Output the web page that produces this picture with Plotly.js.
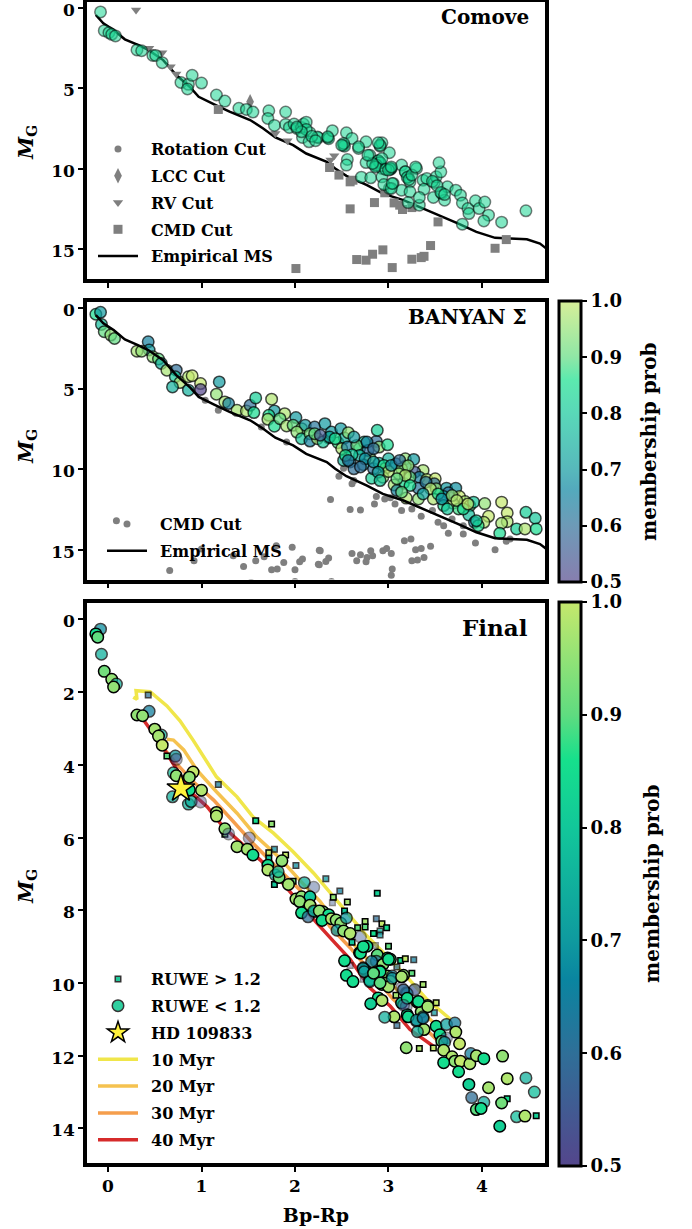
<!DOCTYPE html>
<html><head><meta charset="utf-8">
<script src="https://cdn.plot.ly/plotly-3.0.1.min.js"></script>
<style>html,body{margin:0;padding:0;background:#fff}#g{width:692px;height:1229px}</style>
</head><body><div id="g"></div>
<script>
// Empirical main sequence [Bp-Rp, M_G]
const msX=[-0.13,-0.05,0.06,0.18,0.32,0.43,0.59,0.73,0.88,0.97,1.13,1.30,1.52,1.66,1.79,1.98,2.12,2.27,2.34,2.43,2.55,2.77,2.94,3.16,3.37,3.59,3.76,3.94,4.14,4.30,4.48,4.62,4.69];
const msY=[0.44,0.95,1.37,1.95,2.30,2.61,3.24,4.17,4.94,5.52,5.98,6.45,6.97,7.49,8.05,8.53,9.05,9.42,9.56,9.98,10.44,11.02,11.54,11.95,12.47,12.99,13.44,13.92,14.29,14.34,14.38,14.65,14.96];
// Comove panel
const comoveX=[-0.08,-0.04,0.01,0.04,0.08,0.31,0.36,0.48,0.51,0.58,0.78,0.86,0.85,0.90,1.00,1.16,1.25,1.40,1.48,1.55,1.72,1.71,1.78,1.90,1.90,1.94,1.99,2.02,2.07,2.09,2.12,2.16,2.08,2.15,2.25,2.24,2.35,2.36,2.40,2.52,2.53,2.55,2.61,2.68,2.76,2.56,2.55,2.71,2.81,2.80,2.76,2.91,2.93,3.01,2.89,2.91,2.86,2.93,2.93,3.02,3.03,3.05,3.01,2.95,3.14,3.18,3.21,3.23,3.30,3.14,3.23,3.37,3.41,3.38,3.49,3.51,3.56,3.54,3.48,3.57,3.60,3.63,3.72,3.77,3.79,3.85,3.86,3.93,3.97,4.03,4.07,4.02,4.21,4.47,3.79,3.33,3.33,3.21,3.03,2.89,2.91,2.87,2.93,2.86,2.83,2.78,3.02,2.97,3.00,3.03,3.04,3.18,3.20,3.22,3.25,3.29,2.91,2.89,2.52,2.50,2.35,2.68,3.47,3.52,3.56,3.60,2.12,2.07,2.02,2.18,2.22];
const comoveY=[0.25,1.41,1.54,1.64,1.74,2.61,2.66,2.95,2.95,3.40,4.63,4.75,5.04,4.19,4.67,5.41,5.79,6.24,6.31,6.47,6.39,6.87,7.30,6.47,7.24,7.43,7.22,7.49,7.43,7.22,7.10,7.76,8.05,8.32,8.07,8.03,8.07,8.13,7.63,8.53,8.59,7.76,8.11,8.73,8.32,9.42,9.77,10.52,10.56,9.15,9.61,8.59,8.38,9.00,9.50,9.61,9.81,9.98,10.50,10.04,9.98,10.91,11.22,10.98,9.77,10.19,10.50,10.81,9.98,11.33,11.43,10.71,10.60,11.27,10.85,10.50,10.19,9.63,11.78,11.54,11.95,11.12,11.33,11.64,12.12,12.47,12.78,11.99,12.47,12.07,12.88,13.24,13.32,12.61,13.44,12.26,11.78,12.10,11.22,9.50,9.63,9.77,9.36,9.88,9.67,9.15,9.98,10.04,10.08,9.88,10.91,10.19,10.54,10.66,10.39,9.88,8.53,8.38,8.42,8.53,8.01,8.63,10.78,11.05,11.47,11.60,7.55,7.70,7.40,7.98,8.25];
const cmdCutX=[1.18,2.01,2.37,2.47,2.59,2.62,2.59,2.85,3.06,3.12,3.15,3.25,2.96,3.53,4.26,4.14,3.45,3.38,3.35,3.25,3.04,2.94,2.83,2.76,2.66];
const cmdCutY=[6.31,16.20,9.92,10.39,10.81,10.71,12.49,12.10,12.12,12.26,12.53,12.41,11.49,13.30,14.40,14.94,14.77,15.44,15.52,15.62,16.14,15.04,15.31,15.68,15.64];
const rvCutX=[0.30,0.44,0.58,0.67,0.73,1.79,1.92,2.42,2.38];
const rvCutY=[0.12,2.51,2.78,3.65,4.11,7.80,8.26,9.19,9.46];
const lccCutX=[1.52];
const lccCutY=[5.83];
// BANYAN panel
const banyanX=[-0.13,-0.08,-0.07,-0.04,0.03,0.07,0.43,0.44,0.31,0.36,0.48,0.54,0.57,0.63,0.73,0.72,0.77,0.69,0.86,0.90,0.86,0.99,0.99,1.19,1.16,1.25,1.29,1.38,1.48,1.52,1.56,1.58,1.75,1.78,1.72,1.71,1.78,1.89,1.84,1.91,2.01,1.98,2.07,2.11,2.02,2.07,2.21,2.16,2.16,2.24,2.32,2.36,2.30,2.39,2.46,2.49,2.53,2.57,2.50,2.56,2.69,2.74,2.87,2.90,2.99,2.80,2.78,2.88,2.52,2.59,2.63,2.73,2.82,2.84,2.90,2.97,3.00,2.94,3.08,3.18,3.18,3.27,3.14,3.11,3.37,3.28,3.33,3.16,3.06,3.09,3.19,3.32,3.32,3.41,3.50,3.49,3.51,3.62,3.72,3.64,3.59,3.48,3.76,3.69,3.59,3.75,3.82,3.87,3.91,4.03,3.86,3.92,4.07,4.02,3.96,4.21,4.27,4.27,4.21,4.19,4.37,4.46,4.47,4.57,4.58,2.66,2.69,2.61,2.54,2.75,2.84,2.70,2.57,2.95,3.00,2.89,2.91,3.03,3.12,3.21,3.23,3.18,3.09,3.40,3.45,3.37,3.23,3.14,3.53,3.57,3.68,3.73,3.63,3.80,3.85,3.94,2.37,2.43,2.63,2.77,2.84,2.21,2.27];
const banyanY=[0.39,0.27,1.02,1.47,1.68,1.89,2.10,2.61,2.68,2.68,3.03,3.17,3.44,3.86,3.86,4.27,4.63,4.90,4.27,4.21,5.10,4.69,5.06,4.59,5.35,5.83,5.93,6.35,6.39,6.04,6.49,5.58,5.66,6.39,6.66,6.91,7.34,6.56,6.87,7.32,6.80,7.28,7.49,7.28,7.70,8.11,7.39,7.80,8.26,8.11,7.18,8.07,8.32,7.70,8.36,7.49,8.07,7.74,8.73,8.63,8.73,8.32,8.28,8.63,8.49,9.29,8.84,7.59,9.46,9.56,9.98,9.73,10.56,9.98,9.63,9.94,9.36,10.50,9.67,9.36,9.83,9.40,9.98,10.29,10.08,10.19,10.50,10.87,10.98,11.33,11.80,11.18,11.85,10.64,10.60,10.91,11.22,11.18,11.18,11.47,11.70,11.85,11.70,12.12,12.26,12.47,12.01,12.26,12.05,12.14,12.84,13.30,12.93,13.30,13.51,12.05,12.72,13.26,13.36,13.98,13.71,13.71,12.68,13.05,13.71,8.53,9.15,9.11,9.15,9.36,9.56,9.87,9.46,9.77,10.15,10.19,10.71,9.77,9.46,9.79,10.50,10.39,10.60,10.81,11.22,11.54,11.02,11.43,11.54,11.85,11.64,11.95,12.47,12.47,12.16,13.20,8.01,8.11,8.01,8.32,8.73,7.80,7.90];
const banyanProb=[.85,.7,.78,.9,.95,.9,.65,.7,.97,.95,.95,.9,.75,.97,.6,.8,.98,.75,.98,1,.75,1,.5,.7,.95,.97,.65,.97,.98,.6,.85,.82,.98,.7,.85,.97,.85,.98,.9,.97,.7,.9,.93,.7,.95,.8,.62,.92,.65,.97,.7,.55,.8,.7,.88,.7,.75,.95,.98,.65,.85,.8,.6,.95,.85,.95,.6,.82,.75,.65,.6,.68,.82,.6,.78,1,.75,.95,.65,.95,.72,.7,.95,.95,.97,.55,.65,.85,.97,.65,.98,.62,.95,.98,1,.6,.95,.7,.68,.6,.7,.98,1,.98,.85,.88,.97,.9,.8,.95,.78,.65,1,.98,.85,1,1,.98,.97,.85,.82,.98,.82,.8,.85,.9,.75,.8,.85,.68,.7,.6,.62,.85,.98,.72,.8,.7,.6,.95,.9,.98,.9,.62,.98,.72,.85,.9,.85,.68,.95,.98,.8,.85,1,.8,.75,.85,.7,.65,.6,.9,.55];
const banyanCutX=[0.09,0.66,0.92,1.45,1.58,1.67,1.80,1.88,1.97,2.08,2.05,2.00,1.75,1.81,2.26,2.25,2.00,1.53,1.00,1.34,1.04,1.18,1.64,1.91,2.27,2.36,2.33,2.26,2.39,2.61,2.70,2.66,2.81,2.77,2.76,2.83,2.94,2.98,3.03,3.04,3.03,3.17,3.24,3.29,3.35,3.45,3.38,3.31,3.25,2.38,2.59,2.70,2.85,2.87,2.96,3.02,3.07,3.14,3.25,3.35,3.47,3.53,3.59,3.68,3.64,3.80,3.80,3.93,4.14,4.26,4.30,2.47,2.61,2.63,2.52];
const banyanCutY=[13.20,16.29,15.68,16.04,15.68,15.44,14.75,15.79,14.85,15.58,15.75,16.24,16.24,16.20,15.04,15.91,16.97,17.03,14.96,15.37,5.73,6.35,7.39,8.32,15.06,15.52,15.73,15.93,16.97,15.23,15.31,15.68,15.06,15.48,15.75,15.37,15.06,14.92,15.23,16.20,16.58,14.44,14.34,15.00,14.92,14.79,15.48,15.64,15.68,11.89,12.51,12.53,12.16,11.70,11.85,11.78,12.16,12.57,12.47,12.93,12.57,13.30,13.51,13.09,13.98,14.02,13.51,14.59,15.00,14.48,14.34,10.44,10.91,10.71,9.94];
// Final panel
const finalX=[-0.08,-0.13,-0.11,-0.07,-0.04,0.04,0.09,0.06,0.44,0.31,0.37,0.50,0.57,0.54,0.58,0.72,0.73,0.70,0.91,0.73,0.87,1.00,0.69,0.87,0.86,0.89,0.99,1.16,1.16,1.25,1.29,1.38,1.49,1.51,1.55,1.71,1.71,1.79,1.83,1.82,1.86,1.93,2.10,2.20,2.01,2.07,2.16,2.05,2.16,2.07,2.21,2.14,2.30,2.20,2.26,2.36,2.29,2.39,2.44,2.49,2.55,2.45,2.52,2.59,2.70,2.77,2.69,2.53,2.88,2.87,2.99,3.02,2.94,2.73,2.75,2.91,2.88,2.99,3.04,3.16,2.55,2.62,2.80,2.93,3.00,3.02,3.14,3.28,3.19,2.89,2.93,2.81,3.14,3.31,3.42,3.19,3.35,3.20,3.06,2.96,3.30,3.37,3.38,3.31,3.51,3.62,3.71,3.72,3.55,3.57,3.62,3.60,3.76,3.19,3.59,3.68,3.71,3.77,3.59,3.87,3.88,3.94,4.02,4.22,3.75,3.86,4.07,4.27,4.47,4.56,3.89,4.02,4.21,3.94,3.99,4.37,4.46,4.19,2.70,2.73,2.82,3.00,2.73,2.74,2.80,2.91,2.84,2.96,3.00,3.04,3.14,2.91,3.20,3.28,3.16,3.20,3.16,3.21,3.30,3.37,3.32,3.42];
const finalY=[0.27,0.40,0.49,0.96,1.43,1.65,1.78,1.86,2.53,2.63,2.65,3.02,3.18,3.21,3.46,3.76,3.85,4.22,4.20,4.30,4.34,4.70,4.88,4.69,5.08,5.01,5.02,5.31,5.41,5.76,5.90,6.25,6.32,6.01,6.48,6.76,6.89,7.03,7.10,6.94,6.64,7.29,7.24,7.37,7.69,7.63,7.63,7.76,7.86,8.07,8.04,8.18,8.04,8.02,8.02,8.12,8.28,8.23,8.27,8.36,8.21,8.55,8.57,8.64,8.73,8.99,9.17,9.39,9.23,9.40,9.31,9.35,9.49,9.58,9.63,9.67,9.79,9.81,9.81,9.79,9.79,9.96,9.92,10.04,10.04,9.95,10.13,10.18,10.27,10.41,10.48,10.57,10.55,10.53,10.62,10.64,10.80,10.87,10.93,10.94,11.05,10.93,11.28,11.34,11.19,11.14,11.10,11.35,11.42,11.60,11.51,11.63,11.67,11.78,11.85,12.03,12.15,12.15,12.19,12.22,11.94,12.00,12.08,12.01,12.44,12.79,12.88,12.63,12.61,13.00,13.15,13.28,13.30,13.48,13.45,13.68,13.66,13.94,9.18,9.00,9.41,9.35,9.60,9.69,9.96,9.69,9.73,10.01,10.10,9.87,9.83,10.00,10.29,10.19,10.19,10.42,10.61,10.93,11.02,10.97,10.51,10.65];
const finalProb=[.68,.85,.9,.75,.92,.95,.75,.95,.65,.95,.95,.97,.75,.97,1,.7,.5,.78,1,.95,.95,.98,.75,.85,.75,.75,.5,.97,.98,.95,.55,.97,.97,.52,.85,.85,.98,.72,.92,.78,.95,.97,.75,.55,.97,.95,.8,.95,.97,.85,.78,.6,.95,.75,.95,.85,.85,.98,.95,.95,.7,.7,.95,.98,.55,.85,.85,.85,.9,.6,.82,.9,.95,.72,.75,.85,.78,.97,.65,.95,.85,.85,.85,.95,.95,.95,.5,.55,.65,.85,.98,.82,.8,.9,.98,.55,.95,.85,.98,.75,.7,.65,.97,.75,.85,.72,.65,.98,.85,.9,.55,.7,1,.95,.98,.98,.95,1,.85,.98,.65,.97,.85,.95,.85,.82,.97,.98,.75,.78,.6,.75,.92,.9,.85,.78,.98,.82,.85,.85,.65,.85,.7,.72,.75,.85,.9,.95,.97,.7,.97,.9,.7,.55,.6,.85,.55,.85,.7,.65,.85,.97];
const ruweX=[0.43,0.63,1.18,1.58,1.75,1.78,1.72,1.90,2.01,1.78,1.98,1.72,1.25,2.33,2.48,2.41,2.56,2.40,2.53,2.88,2.87,2.75,2.93,2.75,2.67,2.98,2.84,2.91,2.91,2.61,3.00,2.86,3.13,3.18,3.27,3.09,3.25,2.59,2.73,3.37,3.08,3.51,3.49,3.09,3.33,3.48,4.27,4.58];
const ruweY=[2.08,3.76,4.54,5.54,5.63,6.32,6.42,6.48,6.77,7.29,7.20,6.57,5.91,7.13,7.47,7.64,7.77,7.79,8.02,7.53,8.23,8.31,8.37,8.46,8.48,8.48,8.64,8.57,8.68,8.88,8.99,8.97,9.38,9.33,9.36,9.56,9.73,9.52,9.90,10.04,10.34,10.54,10.82,11.17,11.80,11.79,13.18,13.65];
const ruweProb=[.6,.9,.65,.85,.95,.68,1,1,.68,.8,.9,.8,.95,.7,.65,.95,.97,.55,.8,.82,.6,.97,1,.9,.9,.85,.85,.75,.7,.8,.9,.55,.85,1,.65,.6,.9,.5,.55,.97,.97,1,.7,.6,.98,1,.85,.82];
const iso10X=[0.27,0.31,0.30,0.45,0.63,0.77,0.91,1.06,1.16,1.38,1.55,1.77,1.98,2.20,2.41,2.59,2.77,2.98,3.19,3.41,3.66];
const iso10Y=[2.14,2.20,1.96,1.99,2.38,2.79,3.32,3.91,4.33,4.88,5.43,5.88,6.39,6.98,7.61,8.16,8.71,9.26,9.81,10.45,10.99];
const iso20X=[0.63,0.70,0.81,0.95,1.16,1.38,1.59,1.84,2.05,2.27,2.45,2.66,2.91,3.16,3.41,3.62];
const iso20Y=[3.30,3.32,3.59,4.14,4.74,5.33,5.98,6.57,7.17,7.76,8.39,9.03,9.72,10.36,10.91,11.46];
const iso30X=[0.52,0.73,0.93,1.13,1.34,1.55,1.80,2.02,2.27,2.37,2.59,2.80,3.05,3.28,3.55];
const iso30Y=[3.32,3.96,4.51,4.97,5.56,6.16,6.80,7.35,7.99,8.44,9.03,9.67,10.45,10.96,11.65];
const iso40X=[0.38,0.56,0.73,0.88,1.06,1.23,1.45,1.63,1.84,2.02,2.23,2.41,2.59,2.80,3.02,3.23,3.48];
const iso40Y=[2.77,3.41,4.10,4.74,5.15,5.70,6.21,6.62,7.17,7.72,8.34,8.85,9.35,10.13,10.64,11.28,11.74];
const starX=[0.78], starY=[4.65];
const legend1=["Rotation Cut","LCC Cut","RV Cut","CMD Cut","Empirical MS"];
const legend2=["CMD Cut","Empirical MS"];
const legend3=["RUWE > 1.2","RUWE < 1.2","HD 109833","10 Myr","20 Myr","30 Myr","40 Myr"];

const W=692,H=1229,FONT='"DejaVu Serif"';
const GREY='#7f7f7f';
const finalScale=[[0,'#54468c'],[0.2,'#2f6f98'],[0.33,'#0a85a0'],[0.4,'#0f9a9f'],[0.6,'#12c79a'],[0.72,'#16e08c'],[0.8,'#5fdc80'],[1,'#c5e86c']];
const banyanScale=[[0,'rgba(84,70,140,.7)'],[0.2,'rgba(47,111,152,.7)'],[0.33,'rgba(10,133,160,.7)'],[0.4,'rgba(15,154,159,.7)'],[0.6,'rgba(18,199,154,.7)'],[0.72,'rgba(22,224,140,.7)'],[0.8,'rgba(95,220,128,.7)'],[1,'rgba(197,232,108,.7)']];
const alphaOf=p=>p<0.6?0.45:(p<0.8?0.75:1);
const nul=[null];
function key(ax,ay,leg,name,marker,line){
  const t={x:nul,y:nul,xaxis:ax,yaxis:ay,legend:leg,name:'\u2002'+name,legendgroup:name+leg,showlegend:true,hoverinfo:'skip'};
  if(marker){t.mode='markers';t.marker=marker;}
  if(line){t.mode='lines';t.line=line;}
  return t;
}
const cb=(top,bottom)=>({x:559/W,xref:'paper',xanchor:'left',y:1-bottom/H,yref:'paper',yanchor:'bottom',lenmode:'pixels',len:bottom-top,
  thicknessmode:'pixels',thickness:22,xpad:0,ypad:0,outlinewidth:3,outlinecolor:'#000',
  tick0:0.5,dtick:0.1,tickformat:'.1f',ticks:'outside',ticklen:5,tickwidth:2,tickcolor:'#000',
  tickfont:{family:FONT,size:18,color:'#000',weight:'bold'}});

const data=[
  // panel 1
  {x:msX,y:msY,xaxis:'x',yaxis:'y',mode:'lines',line:{color:'#000',width:2.5},showlegend:false,hoverinfo:'skip'},
  {x:cmdCutX,y:cmdCutY,xaxis:'x',yaxis:'y',mode:'markers',marker:{symbol:'square',size:9,color:GREY},showlegend:false},
  {x:rvCutX,y:rvCutY,xaxis:'x',yaxis:'y',mode:'markers',marker:{symbol:'triangle-down',size:9,color:GREY},showlegend:false},
  {x:lccCutX,y:lccCutY,xaxis:'x',yaxis:'y',mode:'markers',marker:{symbol:'diamond-tall',size:11,color:GREY},showlegend:false},
  {x:comoveX,y:comoveY,xaxis:'x',yaxis:'y',mode:'markers',marker:{size:11.5,color:'rgba(26,214,146,.55)',line:{color:'rgba(0,0,0,.5)',width:1.5}},showlegend:false},
  key('x','y','legend',legend1[0],{size:7,color:GREY}),
  key('x','y','legend',legend1[1],{symbol:'diamond-tall',size:11,color:GREY}),
  key('x','y','legend',legend1[2],{symbol:'triangle-down',size:9,color:GREY}),
  key('x','y','legend',legend1[3],{symbol:'square',size:9,color:GREY}),
  key('x','y','legend',legend1[4],null,{color:'#000',width:2.5}),
  // panel 2
  {x:banyanCutX,y:banyanCutY,xaxis:'x2',yaxis:'y2',mode:'markers',marker:{size:7,color:GREY},showlegend:false},
  {x:banyanX,y:banyanY,xaxis:'x2',yaxis:'y2',mode:'markers',showlegend:false,
   marker:{size:11.5,color:banyanProb,cmin:0.5,cmax:1,colorscale:banyanScale,showscale:true,colorbar:cb(301,582),line:{color:'rgba(0,0,0,.7)',width:1.5}}},
  {x:msX,y:msY,xaxis:'x2',yaxis:'y2',mode:'lines',line:{color:'#000',width:2.5},showlegend:false,hoverinfo:'skip'},
  key('x2','y2','legend2',legend2[0],{size:7,color:GREY}),
  key('x2','y2','legend2',legend2[1],null,{color:'#000',width:2.5}),
  // panel 3
  {x:iso10X,y:iso10Y,xaxis:'x3',yaxis:'y3',mode:'lines',line:{color:'#f0e64a',width:3.5},showlegend:false,hoverinfo:'skip'},
  {x:iso20X,y:iso20Y,xaxis:'x3',yaxis:'y3',mode:'lines',line:{color:'#f5c24f',width:3.5},showlegend:false,hoverinfo:'skip'},
  {x:iso30X,y:iso30Y,xaxis:'x3',yaxis:'y3',mode:'lines',line:{color:'#f59e4c',width:3.5},showlegend:false,hoverinfo:'skip'},
  {x:iso40X,y:iso40Y,xaxis:'x3',yaxis:'y3',mode:'lines',line:{color:'#d62b2b',width:3.5},showlegend:false,hoverinfo:'skip'},
  {x:ruweX,y:ruweY,xaxis:'x3',yaxis:'y3',mode:'markers',showlegend:false,
   marker:{symbol:'square',size:5.5,color:ruweProb,cmin:0.5,cmax:1,colorscale:finalScale,opacity:ruweProb.map(alphaOf),line:{color:'#000',width:1.5}}},
  {x:finalX,y:finalY,xaxis:'x3',yaxis:'y3',mode:'markers',showlegend:false,
   marker:{size:11.5,color:finalProb,cmin:0.5,cmax:1,colorscale:finalScale,showscale:true,colorbar:cb(602,1166),opacity:finalProb.map(alphaOf),line:{color:'#000',width:1.5}}},
  {x:starX,y:starY,xaxis:'x3',yaxis:'y3',mode:'markers',showlegend:false,marker:{symbol:'star',size:21,color:'#fff23c',line:{color:'#000',width:1.5}}},
  key('x3','y3','legend3',legend3[0],{symbol:'square',size:5.5,color:'#1fc89a',line:{color:'#333',width:1.5}}),
  key('x3','y3','legend3',legend3[1],{size:11.5,color:'#2fd0a0',line:{color:'#333',width:1.5}}),
  key('x3','y3','legend3',legend3[2],{symbol:'star',size:16,color:'#fff23c',line:{color:'#000',width:1.5}}),
  key('x3','y3','legend3',legend3[3],null,{color:'#f0e64a',width:3.5}),
  key('x3','y3','legend3',legend3[4],null,{color:'#f5c24f',width:3.5}),
  key('x3','y3','legend3',legend3[5],null,{color:'#f59e4c',width:3.5}),
  key('x3','y3','legend3',legend3[6],null,{color:'#d62b2b',width:3.5}),
];
const bold=(s)=>({family:FONT,size:s,color:'#000',weight:'bold'});
const xa=(anchor,showLabels,title)=>{const a={domain:[87/W,545/W],range:[-0.2246,4.674],anchor:anchor,tickmode:'array',tickvals:[0,1,2,3,4],
  showticklabels:showLabels,ticks:'outside',ticklen:5,tickwidth:2,tickcolor:'#000',showgrid:false,zeroline:false,
  showline:true,mirror:true,linecolor:'#000',linewidth:3.5,tickfont:bold(17),fixedrange:true};
  if(title)a.title={text:title,font:bold(19),standoff:15};return a;};
const ya=(anchor,top,bottom,range,tickvals)=>({domain:[1-bottom/H,1-top/H],range:range,anchor:anchor,tickmode:'array',tickvals:tickvals,
  ticks:'outside',ticklen:5,tickwidth:2,tickcolor:'#000',showgrid:false,zeroline:false,ticklabeloverflow:'allow',ticklabelshift:-2,
  showline:true,mirror:true,linecolor:'#000',linewidth:3.5,tickfont:bold(17),fixedrange:true});
const lg=(xpx,ypx,w)=>({x:xpx/W,xanchor:'left',y:1-ypx/H,yanchor:'top',bgcolor:'rgba(0,0,0,0)',borderwidth:0,font:bold(16),
  itemwidth:w,tracegroupgap:3,itemclick:false,itemdoubleclick:false});
const ann=(text,xpx,ypx,size,extra)=>Object.assign({text:text,x:xpx/W,y:1-ypx/H,xref:'paper',yref:'paper',showarrow:false,xanchor:'right',yanchor:'middle',font:bold(size)},extra||{});
const mg='<i>M</i><sub>G</sub>';
const rot={textangle:-90,xanchor:'center'};
const layout={width:W,height:H,margin:{l:0,r:0,t:0,b:0},paper_bgcolor:'#fff',plot_bgcolor:'#fff',showlegend:true,
  xaxis:xa('y',false),yaxis:ya('x',2,279,[16.85,-0.37],[0,5,10,15]),
  xaxis2:xa('y2',false),yaxis2:ya('x2',302,579.5,[16.85,-0.37],[0,5,10,15]),
  xaxis3:xa('y3',true,'Bp-Rp'),yaxis3:ya('x3',603,1163,[14.95,-0.45],[0,2,4,6,8,10,12,14]),
  legend:lg(93,132,40),legend2:lg(102,507,40),legend3:lg(93,962,40),
  annotations:[
    ann('Comove',531,17,20),ann('BANYAN Σ',529,317,20),ann('Final',530,627,23),
    ann(mg,27,143,20,rot),ann(mg,27,447,20,rot),ann(mg,27,887,20,rot),
    ann('membership prob',649,442,20,rot),ann('membership prob',652,884,20,rot)
  ]};
Plotly.newPlot('g',data,layout,{displayModeBar:false});
</script></body></html>
